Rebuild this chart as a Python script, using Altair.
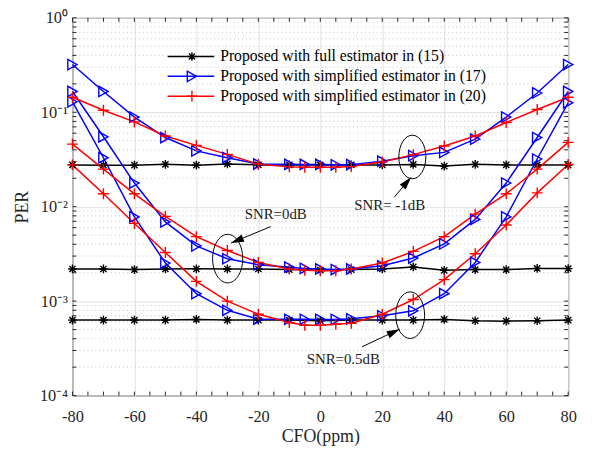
import math
import altair as alt
import pandas as pd

# ---------------- data ----------------
methods = [
    "Proposed with full estimator in (15)",
    "Proposed with simplified estimator in (17)",
    "Proposed with simplified estimator in (20)",
]
colors = ["#000000", "#0000FF", "#FF0000"]
snrs = ["-1dB", "0dB", "0.5dB"]

cfo_coarse = [-80, -70, -60, -50, -40, -30, -20, -10, 0, 10, 20, 30, 40, 50, 60, 70, 80]
cfo_fine = [-80, -70, -60, -50, -40, -30, -20, -10, -5, 0, 5, 10, 20, 30, 40, 50, 60, 70, 80]

# full estimator (15) -- black, coarse grid
full_m1 = [0.0277, 0.0275, 0.0275, 0.0281, 0.0275, 0.0284, 0.0277, 0.0277, 0.0277, 0.0277,
           0.0277, 0.0280, 0.0269, 0.0281, 0.0277, 0.0277, 0.0276]
full_0 = [0.00219, 0.00219, 0.00216, 0.00219, 0.00220, 0.00219, 0.00219, 0.00216, 0.00213,
          0.00216, 0.00219, 0.00230, 0.00212, 0.00216, 0.00216, 0.00222, 0.00221]
full_05 = [0.00063, 0.00063, 0.00063, 0.00063, 0.00064, 0.00063, 0.00063, 0.00063, 0.00062,
           0.00063, 0.00063, 0.00063, 0.00064, 0.00062, 0.000614, 0.00062, 0.00063]

# simplified estimator (17) -- blue, fine grid
s17_m1 = [0.32, 0.166, 0.089, 0.054, 0.039, 0.033, 0.0283, 0.0281, 0.0280, 0.0280, 0.0278,
          0.0279, 0.0303, 0.0347, 0.0376, 0.052, 0.089, 0.16, 0.32]
s17_0 = [0.166, 0.055, 0.0178, 0.0069, 0.00385, 0.00281, 0.00243, 0.00229, 0.00222, 0.00219,
         0.00216, 0.00219, 0.00237, 0.00286, 0.00404, 0.00734, 0.0178, 0.054, 0.166]
s17_05 = [0.129, 0.033, 0.0078, 0.00253, 0.0012, 0.0008, 0.000643, 0.000643, 0.000643, 0.00064,
          0.00064, 0.00065, 0.0007, 0.00079, 0.0012, 0.00257, 0.0078, 0.032, 0.126]

# simplified estimator (20) -- red, fine grid
s20_m1 = [0.144, 0.105, 0.079, 0.056, 0.0446, 0.0358, 0.0282, 0.0264, 0.0262, 0.0262, 0.0262,
          0.0266, 0.0298, 0.0356, 0.044, 0.056, 0.078, 0.107, 0.144]
s20_0 = [0.046, 0.025, 0.0137, 0.0079, 0.00482, 0.00344, 0.00257, 0.00219, 0.00212, 0.0021,
         0.0021, 0.00219, 0.00253, 0.00336, 0.00482, 0.00834, 0.0137, 0.025, 0.048]
s20_05 = [0.0277, 0.0137, 0.00665, 0.00327, 0.00162, 0.001, 0.000726, 0.000594, 0.000556,
          0.000556, 0.00057, 0.000583, 0.000726, 0.00104, 0.00169, 0.00317, 0.0064, 0.014, 0.028]

x_ticks = [-80, -60, -40, -20, 0, 20, 40, 60, 80]
x_minor = list(range(-80, 81, 5))
y_ticks = [1e-4, 1e-3, 1e-2, 1e-1, 1]
y_tick_labels = ["10\u207b\u2074", "10\u207b\u00b3", "10\u207b\u00b2", "10\u207b\u00b9", "10\u2070"]
y_minor = [k * 10.0 ** d for d in (-4, -3, -2, -1) for k in range(2, 10)]

# annotations
ann_text = ["SNR=0dB", "SNR= -1dB", "SNR=0.5dB"]
ann_text_x = [-14.4, 22.4, 7.4]
ann_text_y = [0.00832, 0.01042, 0.000244]
ell_x = [-29.9, 29.7, 29.0]
ell_y = [0.00282, 0.0336, 0.00071]
ell_h = [49, 44, 47]
arr_x0 = [-16.0, 23.9, 13.5]
arr_y0 = [0.00616, 0.01265, 0.000329]
arr_x1 = [-28.8, 29.3, 25.6]
arr_y1 = [0.00412, 0.0205, 0.000505]
arr_angle = [247.5, 40.4, 64.8]

# ---------------- build table ----------------
series = [
    (methods[0], cfo_coarse, [full_m1, full_0, full_05]),
    (methods[1], cfo_fine, [s17_m1, s17_0, s17_05]),
    (methods[2], cfo_fine, [s20_m1, s20_0, s20_05]),
]
rows = []
for m, xs, groups in series:
    for snr, ys in zip(snrs, groups):
        for x, y in zip(xs, ys):
            rows.append({"method": m, "marker": m, "snr": snr, "cfo": x, "per": y})
df = pd.DataFrame(rows)

W, H = 500, 381
FONT = "Liberation Serif"

star = "M-0.8,0L0.8,0M0,-0.8L0,0.8M-0.57,-0.57L0.57,0.57M-0.57,0.57L0.57,-0.57"
tri = "M0.85,0L-0.85,-0.95L-0.85,0.95Z"
plus = "M-1,0L1,0M0,-1L0,1"

xscale = alt.Scale(domain=[-80, 80], nice=False, zero=False)
yscale = alt.Scale(type="log", domain=[1e-4, 1], nice=False)

label_expr = " : ".join(
    f"datum.value < {v * 1.5} ? '{t}'" for v, t in zip(y_ticks[:-1], y_tick_labels[:-1])
) + f" : '{y_tick_labels[-1]}'"

AX = dict(labelFont=FONT, labelFontSize=16.5, labelColor="#262626",
          titleFont=FONT, titleFontSize=18, titleFontWeight="normal", titleColor="#262626",
          gridColor="#e2e2e2", gridWidth=1)

X = alt.X(
    "cfo:Q", scale=xscale,
    axis=alt.Axis(values=x_ticks, title="CFO(ppm)", grid=True, ticks=False, domain=False,
                  labelExpr="datum.value < 0 ? '-' + abs(datum.value) : '' + datum.value",
                  labelFlush=False, labelOverlap=False, labelPadding=13,
                  titleX=W / 2, titleY=41, titleBaseline="middle", **AX),
)
Y = alt.Y(
    "per:Q", scale=yscale,
    axis=alt.Axis(values=y_ticks, title="PER", grid=True, ticks=False, domain=False,
                  labelExpr=label_expr, labelFlush=False, labelOverlap=False, labelPadding=5,
                  titleX=-50, titleY=H / 2, titleBaseline="middle", **AX),
)

base = alt.Chart(df)

lines = base.mark_line(strokeWidth=1.5).encode(
    x=X, y=Y,
    color=alt.Color("method:N", scale=alt.Scale(domain=methods, range=colors),
                    legend=alt.Legend(orient="none", legendX=95, legendY=29, title=None,
                                      symbolType="stroke", symbolSize=2209, symbolStrokeWidth=1.5,
                                      labelFont=FONT, labelFontSize=15.8, labelColor="#000000",
                                      clipHeight=20, rowPadding=0, padding=0, labelOffset=5,
                                      labelLimit=500)),
    detail="snr:N",
)

pleg = alt.Legend(orient="none", legendX=114, legendY=29, title=None,
                  symbolSize=121, symbolStrokeWidth=1.4,
                  labelExpr="''", clipHeight=20, rowPadding=0, padding=0)
points = base.mark_point(filled=False, size=121, strokeWidth=1.4, opacity=1).encode(
    x=alt.X("cfo:Q", scale=xscale),
    y=alt.Y("per:Q", scale=yscale),
    color=alt.Color("marker:N", scale=alt.Scale(domain=methods, range=colors), legend=pleg),
    shape=alt.Shape("marker:N", scale=alt.Scale(domain=methods, range=[star, tri, plus]),
                    legend=pleg),
)

data_layer = alt.layer(lines, points).resolve_scale(color="independent", shape="independent")

# minor grid (dotted)
ygrid = alt.Chart(pd.DataFrame({"v": y_minor})).mark_rule(
    color="#c8c8c8", strokeDash=[1, 3], strokeWidth=1
).encode(y=alt.Y("v:Q", scale=yscale))

# inward ticks
xt = pd.DataFrame({"v": x_minor})
yt = pd.DataFrame({"v": y_ticks + y_minor})
tick_color = "#262626"
tb = alt.Chart(xt).mark_rule(color=tick_color).encode(
    x=alt.X("v:Q", scale=xscale), y=alt.value(H), y2=alt.YValue(H - 4))
tt = alt.Chart(xt).mark_rule(color=tick_color).encode(
    x=alt.X("v:Q", scale=xscale), y=alt.value(0), y2=alt.YValue(4))
tl = alt.Chart(yt).mark_rule(color=tick_color).encode(
    y=alt.Y("v:Q", scale=yscale), x=alt.value(0), x2=alt.XValue(4))
tr = alt.Chart(yt).mark_rule(color=tick_color).encode(
    y=alt.Y("v:Q", scale=yscale), x=alt.value(W), x2=alt.XValue(W - 4))

# annotations
ann = pd.DataFrame({
    "tx": ann_text_x, "ty": ann_text_y, "t": ann_text,
    "ex": ell_x, "ey": ell_y, "es": [h * h for h in ell_h],
    "ax0": arr_x0, "ay0": arr_y0, "ax1": arr_x1, "ay1": arr_y1, "ang": arr_angle,
})
annot = alt.Chart(ann)
txt = annot.mark_text(font=FONT, fontSize=15, color="#1a1a1a").encode(
    x=alt.X("tx:Q", scale=xscale), y=alt.Y("ty:Q", scale=yscale), text="t:N")
ellipse = annot.mark_point(
    shape="M0,-1A0.62,1 0 1,1 0,1A0.62,1 0 1,1 0,-1Z", filled=False, color="#000000",
    strokeWidth=1, opacity=1
).encode(x=alt.X("ex:Q", scale=xscale), y=alt.Y("ey:Q", scale=yscale),
         size=alt.Size("es:Q", scale=None))
shaft = annot.mark_rule(color="#000000", strokeWidth=1).encode(
    x=alt.X("ax0:Q", scale=xscale), y=alt.Y("ay0:Q", scale=yscale),
    x2="ax1:Q", y2="ay1:Q")
head = annot.mark_point(
    shape="M0,0L0.6,2L-0.6,2Z", filled=True, color="#000000", size=169, opacity=1
).encode(x=alt.X("ax1:Q", scale=xscale), y=alt.Y("ay1:Q", scale=yscale),
         angle=alt.Angle("ang:Q", scale=None))

chart = alt.layer(
    ygrid, data_layer, tb, tt, tl, tr, ellipse, shaft, head, txt
).properties(
    width=W, height=H, autosize="none", background="white",
    padding={"left": 65, "top": 8, "right": 20, "bottom": 54},
).configure_view(
    stroke="#262626", strokeWidth=1
)

chart.save("out.html", embed_options={"renderer": "svg", "actions": False})
